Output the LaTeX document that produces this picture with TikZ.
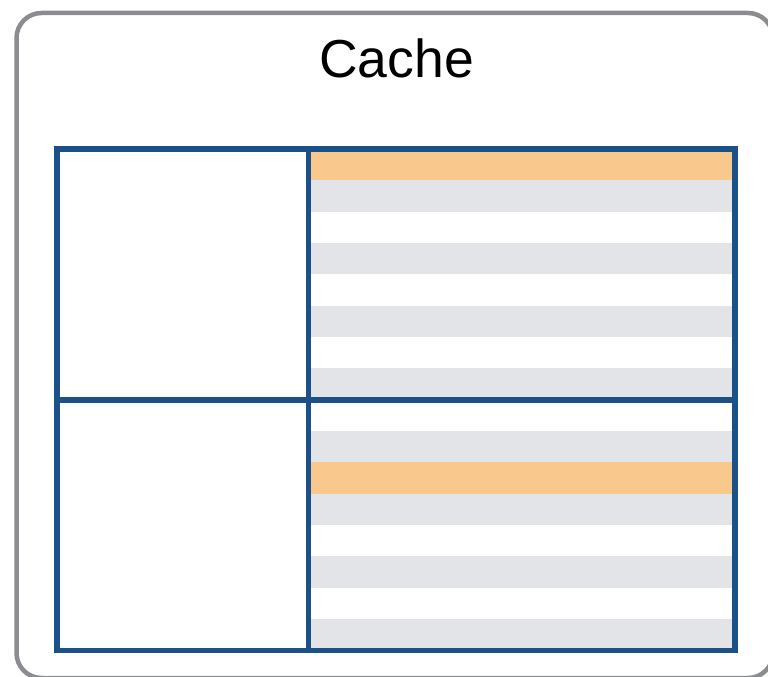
\documentclass[tikz,border=0pt]{standalone}
\usepackage{fontspec}
\setmainfont{Liberation Sans}
\usepackage{tikz}
\usetikzlibrary{positioning}

\definecolor{cachegray}{RGB}{138,140,143}
\definecolor{gridblue}{RGB}{27,80,137}
\definecolor{hitorange}{RGB}{248,200,141}
\definecolor{stripegray}{RGB}{227,228,231}

\begin{document}
\begin{tikzpicture}[
    x=1pt, y=-1pt,
    cachebox/.style={draw=cachegray, line width=4.5pt, rounded corners=25pt},
    title/.style={font=\fontsize{53.5}{60}\selectfont, inner sep=0pt},
    cell/.style={rectangle, draw=gridblue, line width=5.5pt, inner sep=0pt, outer sep=0pt},
    stripe/.style={fill=stripegray},
    hit/.style={fill=hitorange},
  ]
  \useasboundingbox (0,0) rectangle (768,677);
  \clip (0,0) rectangle (768,677);

  % outer cache frame
  \draw[cachebox] (16.5,13) rectangle (773,678);
  \node[title] (title) at (396.5,58.5) {Cache};

  % striped rows in the right column
  \foreach \i in {1,3,...,15}
    \path[stripe] (308.5,{149+\i*31.34}) rectangle (735,{149+(\i+1)*31.34});
  \foreach \i in {0,10}
    \path[hit] (308.5,{149+\i*31.34}) rectangle (735,{149+(\i+1)*31.34});

  % grid cells
  \node[cell, minimum width=251.5pt, minimum height=251pt, anchor=north west] (tagA)  at (57,149)    {};
  \node[cell, minimum width=426.5pt, minimum height=251pt, anchor=north west] (dataA) at (308.5,149) {};
  \node[cell, minimum width=251.5pt, minimum height=250.5pt, anchor=north west] (tagB)  at (57,400)    {};
  \node[cell, minimum width=426.5pt, minimum height=250.5pt, anchor=north west] (dataB) at (308.5,400) {};
\end{tikzpicture}
\end{document}
